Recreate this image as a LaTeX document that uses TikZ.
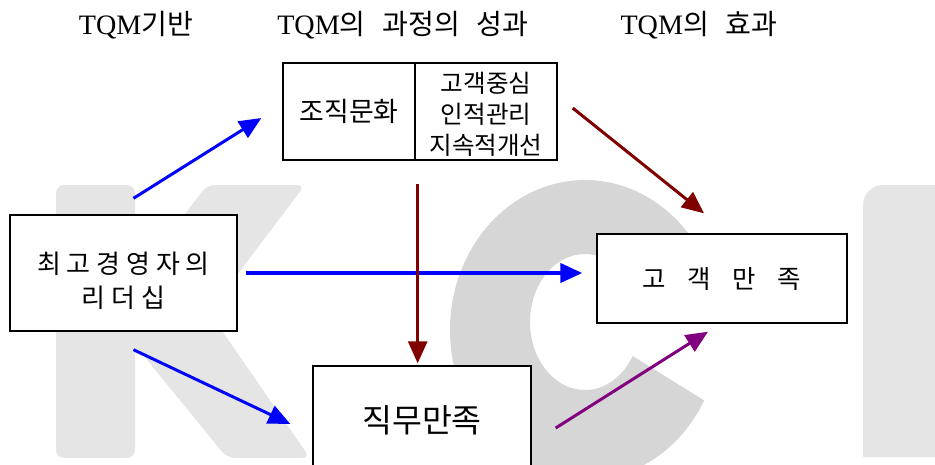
\documentclass[tikz,border=0pt]{standalone}
\usepackage{fontspec}
\setmainfont{Noto Sans CJK KR}
\newfontfamily\hdfont{Liberation Serif}
\usetikzlibrary{arrows.meta,calc}

\newcommand\widesp[1]{\spaceskip=#1\relax}

\tikzset{
  box/.style={draw, fill=white, line width=0.8pt, inner sep=0pt, align=center},
  hd/.style={inner sep=0pt, font={\fontsize{16}{19}\selectfont\widesp{0.6em}}},
  tip/.style={-{Triangle[length=0.44cm, width=0.38cm]}},
  blu/.style={tip, draw=blue, fill=blue, line width=1.7pt},
  dred/.style={tip, draw={rgb,255:red,128;green,0;blue,0}, line width=1.7pt},
  pur/.style={tip, draw={rgb,255:red,128;green,0;blue,128}, line width=1.7pt},
  wm/.style={fill=black!10},
  wmc/.style={fill=black!16}
}

\begin{document}
\begin{tikzpicture}[x=0.02cm, y=-0.02cm]
  \useasboundingbox (0,0) rectangle (935,464);
  \clip (0,0) rectangle (935,464);

  % KCI watermark
  \fill[wm, rounded corners=0.16cm] (56,185) -- (135,185) -- (135,280) -- (207,185) -- (305,185) -- (209,312) -- (310,458) -- (227,458) -- (135,345) -- (135,458) -- (56,458) -- cycle;
  \fill[wmc] (585,330) ++(28:135 and 150) arc[start angle=28, end angle=322, x radius=135, y radius=150] -- ($(585,322)+(320:55 and 68)$) arc[start angle=320, end angle=30, x radius=55, y radius=68] -- cycle;
  \fill[wm] (863,457) [rounded corners=0.4cm] -- (863,185) [sharp corners] -- (950,185) -- (950,457) -- cycle;

  % headings
  \node[hd] (h1) at (136,25) {{\hdfont TQM}기반};
  \node[hd] (h2) at (403,25) {{\hdfont TQM}의 과정의 성과};
  \node[hd] (h3) at (699,25) {{\hdfont TQM}의 효과};

  % boxes
  \node[box, minimum width=2.64cm, minimum height=1.94cm, font=\fontsize{15.3}{17}\selectfont] (cult) at (349,111.5) {조직문화};
  \node[box, minimum width=2.84cm, minimum height=1.94cm, font=\fontsize{14}{17.5}\selectfont] (prac) at (486,111.5) {\rule{0pt}{15pt}고객중심\\인적관리\\지속적개선};
  \node[box, minimum width=4.54cm, minimum height=2.32cm, font=\fontsize{14.8}{19.8}\selectfont] (lead) at (123.5,273) {\rule{0pt}{21pt}최 고 경 영 자 의\\리 더 십};
  \node[box, minimum width=5cm, minimum height=1.78cm, font={\fontsize{14.5}{17}\selectfont\widesp{0.85em}}] (cust) at (722,278.5) {고 객 만 족};
  \node[box, minimum width=4.36cm, minimum height=2.16cm, font=\fontsize{18.5}{20}\selectfont] (job) at (422,420) {직무만족};

  % arrows
  \draw[blu] ($(lead.north)+(10,-16)$) -- ($(cult.west)+(-21,6.5)$);
  \draw[blu, line width=2.3pt] ($(lead.east)+(8,0)$) -- ($(cust.west |- lead.east)+(-14,0)$);
  \draw[blu] ($(lead.south)+(10,18)$) -- ($(job.west)+(-22,4)$);
  \draw[dred] ($(cult.south east)+(2,23)$) -- ($(cult.south east |- job.north)+(2,-2)$);
  \draw[dred] ($(prac.east)+(15,-3.5)$) -- ($(cust.north)+(-18,-20)$);
  \draw[pur] ($(job.east)+(24,8)$) -- ($(cust.south)+(-14,8)$);
\end{tikzpicture}
\end{document}
